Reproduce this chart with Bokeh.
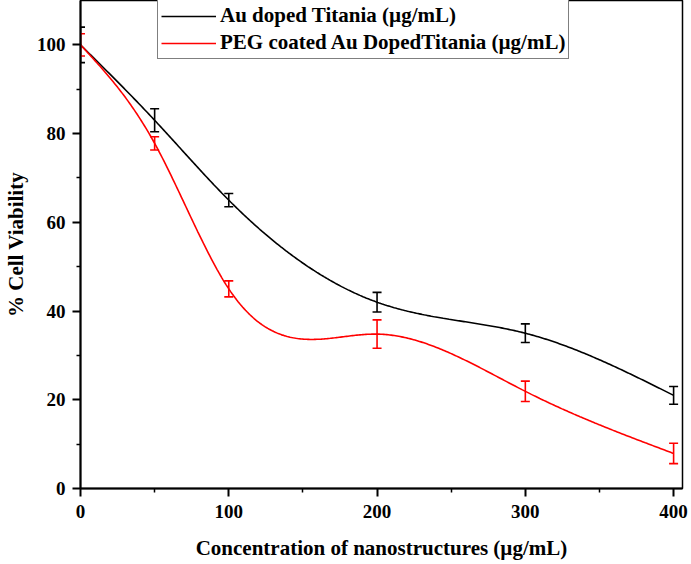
import numpy as np
from bokeh.plotting import figure
from bokeh.models import (Whisker, TeeHead, ColumnDataSource, Legend, LegendItem,
                          FixedTicker, Range1d)
from bokeh.embed import file_html
from bokeh.resources import INLINE

conc = [0, 50, 100, 200, 300, 400]
au_viab = [100, 83, 65, 42, 35, 21]
au_err = [4, 2.6, 1.5, 2.2, 2.1, 2.0]
peg_viab = [100, 77.8, 45, 34.8, 21.9, 7.9]
peg_err = [2.5, 1.5, 1.8, 3.2, 2.3, 2.3]

x_ticks = [0, 100, 200, 300, 400]
x_minor = [50, 150, 250, 350]
y_ticks = [0, 20, 40, 60, 80, 100]
y_minor = [10, 30, 50, 70, 90]

series_names = ["Au doped Titania (\u00b5g/mL)", "PEG coated Au DopedTitania (\u00b5g/mL)"]


def natural_spline(x, y, n=400):
    x = np.asarray(x, float)
    y = np.asarray(y, float)
    k = len(x)
    h = np.diff(x)
    A = np.zeros((k, k))
    b = np.zeros(k)
    A[0, 0] = 1
    A[-1, -1] = 1
    for i in range(1, k - 1):
        A[i, i - 1] = h[i - 1]
        A[i, i] = 2 * (h[i - 1] + h[i])
        A[i, i + 1] = h[i]
        b[i] = 3 * ((y[i + 1] - y[i]) / h[i] - (y[i] - y[i - 1]) / h[i - 1])
    c = np.linalg.solve(A, b)
    xs = np.linspace(x[0], x[-1], n)
    idx = np.clip(np.searchsorted(x, xs, side="right") - 1, 0, k - 2)
    dx = xs - x[idx]
    bc = (y[1:] - y[:-1]) / h - h * (2 * c[:-1] + c[1:]) / 3
    d = (c[1:] - c[:-1]) / (3 * h)
    ys = y[idx] + bc[idx] * dx + c[idx] * dx ** 2 + d[idx] * dx ** 3
    return xs, ys


FONT = "Liberation Serif"

p = figure(width=691, height=564, output_backend="svg", toolbar_location=None,
           x_range=Range1d(0, 406), y_range=Range1d(0, 110),
           min_border_left=78, min_border_right=9, min_border_top=0, min_border_bottom=76)
p.background_fill_color = "white"
p.border_fill_color = "white"
p.outline_line_color = "black"
p.outline_line_width = 1.5
p.xgrid.visible = False
p.ygrid.visible = False

for ax in (p.xaxis[0], p.yaxis[0]):
    ax.axis_line_width = 2
    ax.major_tick_line_width = 2
    ax.minor_tick_line_width = 1.5
    ax.major_tick_out = 8
    ax.major_tick_in = 0
    ax.minor_tick_out = 4
    ax.minor_tick_in = 0
    ax.major_label_text_font = FONT
    ax.major_label_text_font_style = "bold"
    ax.major_label_text_font_size = "19px"
    ax.major_label_text_color = "black"
    ax.axis_label_text_font = FONT
    ax.axis_label_text_font_style = "bold"
    ax.axis_label_text_font_size = "21px"
    ax.axis_label_text_color = "black"

p.xaxis.ticker = FixedTicker(ticks=x_ticks, minor_ticks=x_minor)
p.yaxis.ticker = FixedTicker(ticks=y_ticks, minor_ticks=y_minor)
p.xaxis.axis_label = "Concentration of nanostructures (\u00b5g/mL)"
p.yaxis.axis_label = "% Cell Viability"
p.xaxis.major_label_standoff = 8
p.yaxis.major_label_standoff = 7
p.xaxis.axis_label_standoff = 15
p.yaxis.axis_label_standoff = 6

colors = ["black", "#ff0000"]
items = []
for name, vals, errs, col in zip(series_names, [au_viab, peg_viab], [au_err, peg_err], colors):
    xs, ys = natural_spline(conc, vals)
    r = p.line(xs, ys, line_color=col, line_width=1.6)
    src = ColumnDataSource(dict(base=conc,
                                upper=[v + e for v, e in zip(vals, errs)],
                                lower=[v - e for v, e in zip(vals, errs)]))
    w = Whisker(source=src, base="base", upper="upper", lower="lower",
                line_color=col, line_width=1.6,
                upper_head=TeeHead(size=9, line_color=col, line_width=1.6),
                lower_head=TeeHead(size=9, line_color=col, line_width=1.6))
    p.add_layout(w)
    items.append(LegendItem(label=name, renderers=[r]))

legend = Legend(items=items, location=(77, 429))
legend.label_text_font = FONT
legend.label_text_font_style = "bold"
legend.label_text_font_size = "21px"
legend.label_text_color = "black"
legend.glyph_width = 55
legend.glyph_height = 22
legend.label_height = 22
legend.spacing = 2
legend.padding = 3
legend.margin = 0
legend.label_standoff = 4
legend.border_line_color = "black"
legend.border_line_width = 1.5
legend.background_fill_color = "white"
legend.background_fill_alpha = 1
p.add_layout(legend)

open("out.html", "w").write(file_html(p, INLINE))
